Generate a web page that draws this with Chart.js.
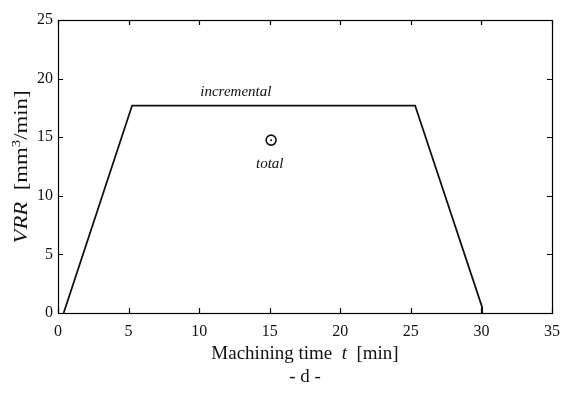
<!DOCTYPE html>
<html>
<head>
<meta charset="utf-8">
<script src="https://cdn.jsdelivr.net/npm/chart.js@4"></script>
<style>
  html, body { margin: 0; padding: 0; background: #fff; }
  #wrap { width: 565px; height: 394px; }
</style>
</head>
<body>
<div id="wrap"><canvas id="vrrChart" width="565" height="394"></canvas></div>
<script>
// Data
const timeMin = [0.4, 5.25, 25.3, 30.05, 30.05];
const vrrIncremental = [0, 17.7, 17.7, 0.5, 0];
const totalTime = [15.1];
const totalVrr = [14.75];
const xTicks = [0, 5, 10, 15, 20, 25, 30, 35];
const yTicks = [0, 5, 10, 15, 20, 25];

const serif = '"Liberation Serif", "DejaVu Serif", serif';

// draw a run of text pieces (normal / italic / superscript) starting at x
function drawRich(ctx, parts, x, y, size) {
    parts.forEach(p => {
        const sz = p.sup ? size * 0.65 : size;
        ctx.font = (p.italic ? 'italic ' : '') + sz + 'px ' + serif;
        ctx.fillText(p.text, x, p.sup ? y - size * 0.38 : y);
        x += ctx.measureText(p.text).width;
    });
    return x;
}

function richWidth(ctx, parts, size) {
    let w = 0;
    parts.forEach(p => {
        const sz = p.sup ? size * 0.65 : size;
        ctx.font = (p.italic ? 'italic ' : '') + sz + 'px ' + serif;
        w += ctx.measureText(p.text).width;
    });
    return w;
}

// box frame, inward ticks on all four sides, titles and annotations
const framePlugin = {
    id: 'frame',
    afterDraw(chart) {
        const ctx = chart.ctx;
        const a = chart.chartArea;
        const xs = chart.scales.x;
        const ys = chart.scales.y;
        const len = 5;

        ctx.save();
        ctx.strokeStyle = '#000';
        ctx.lineWidth = 1.2;
        ctx.strokeRect(a.left + 0.5, a.top + 0.5, a.right - a.left, a.bottom - a.top);

        ctx.beginPath();
        xTicks.forEach(v => {
            const px = Math.round(xs.getPixelForValue(v)) + 0.5;
            ctx.moveTo(px, a.bottom); ctx.lineTo(px, a.bottom - len);
            ctx.moveTo(px, a.top); ctx.lineTo(px, a.top + len);
        });
        yTicks.forEach(v => {
            const py = Math.round(ys.getPixelForValue(v)) + 0.5;
            ctx.moveTo(a.left, py); ctx.lineTo(a.left + len, py);
            ctx.moveTo(a.right, py); ctx.lineTo(a.right - len, py);
        });
        ctx.stroke();

        ctx.fillStyle = '#111';
        ctx.textBaseline = 'alphabetic';
        ctx.textAlign = 'left';

        // x axis title
        const xTitle = [
            {text: 'Machining time  '},
            {text: 't', italic: true},
            {text: '  [min]'}
        ];
        const cx = (a.left + a.right) / 2;
        const w = richWidth(ctx, xTitle, 19);
        drawRich(ctx, xTitle, cx - w / 2, 359, 19);

        ctx.font = '19px ' + serif;
        ctx.textAlign = 'center';
        ctx.fillText('- d -', cx, 382);

        // y axis title, rotated and a little stretched along its length
        const yTitle = [
            {text: 'VRR', italic: true},
            {text: '  [mm'},
            {text: '3', sup: true},
            {text: '/min]'}
        ];
        ctx.textAlign = 'left';
        const wy = richWidth(ctx, yTitle, 19);
        ctx.translate(27, 167);
        ctx.rotate(-Math.PI / 2);
        ctx.scale(1.2, 1);
        drawRich(ctx, yTitle, -wy / 2, 0, 19);
        ctx.setTransform(1, 0, 0, 1, 0, 0);

        // curve labels
        ctx.font = 'italic 15px ' + serif;
        ctx.textAlign = 'center';
        ctx.fillText('incremental', xs.getPixelForValue(12.6), ys.getPixelForValue(18.5));
        ctx.fillText('total', xs.getPixelForValue(15.0), ys.getPixelForValue(12.4));
        ctx.restore();
    }
};

new Chart(document.getElementById('vrrChart'), {
    type: 'scatter',
    data: {
        datasets: [
            {
                label: 'incremental',
                data: timeMin.map((t, i) => ({x: t, y: vrrIncremental[i]})),
                showLine: true,
                borderColor: '#111',
                borderWidth: 1.8,
                pointRadius: 0,
                tension: 0
            },
            {
                label: 'total',
                data: totalTime.map((t, i) => ({x: t, y: totalVrr[i]})),
                pointStyle: 'circle',
                pointRadius: 5,
                borderColor: '#111',
                borderWidth: 1.6,
                backgroundColor: 'rgba(0,0,0,0)'
            },
            {
                label: 'total centre',
                data: totalTime.map((t, i) => ({x: t, y: totalVrr[i]})),
                pointRadius: 1,
                borderWidth: 0,
                backgroundColor: '#111'
            }
        ]
    },
    options: {
        responsive: false,
        animation: false,
        layout: {padding: {left: 0, top: 20, right: 13, bottom: 0}},
        plugins: {
            legend: {display: false},
            tooltip: {enabled: false}
        },
        scales: {
            x: {
                type: 'linear',
                min: 0,
                max: 35,
                afterFit: scale => {
                    scale.height = 81;
                    scale.paddingLeft = 0;
                    scale.paddingRight = 0;
                },
                afterBuildTicks: scale => { scale.ticks = xTicks.map(v => ({value: v})); },
                grid: {display: false, drawTicks: false},
                border: {display: false},
                ticks: {
                    padding: 9,
                    color: '#111',
                    font: {family: serif, size: 16}
                }
            },
            y: {
                type: 'linear',
                min: 0,
                max: 25,
                afterFit: scale => {
                    scale.width = 58;
                    scale.paddingTop = 0;
                    scale.paddingBottom = 0;
                },
                afterBuildTicks: scale => { scale.ticks = yTicks.map(v => ({value: v})); },
                grid: {display: false, drawTicks: false},
                border: {display: false},
                ticks: {
                    padding: 5,
                    color: '#111',
                    font: {family: serif, size: 16}
                }
            }
        }
    },
    plugins: [framePlugin]
});
</script>
</body>
</html>
